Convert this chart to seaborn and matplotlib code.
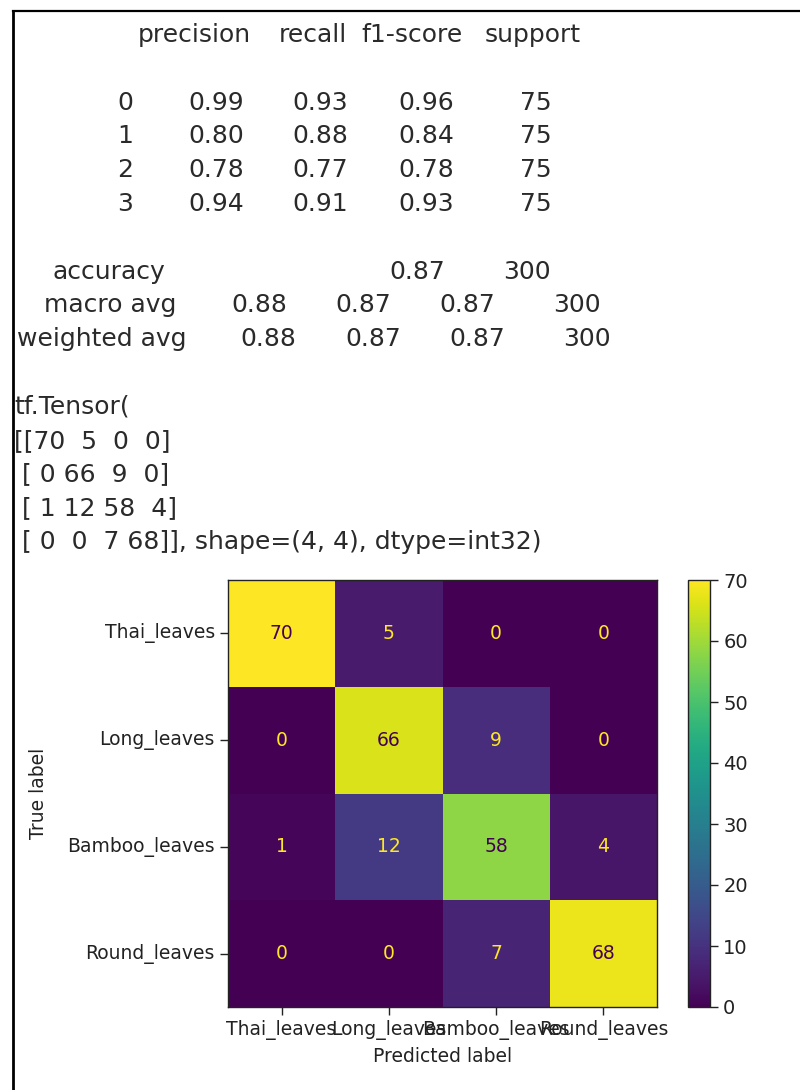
import numpy as np
import matplotlib
matplotlib.use("Agg")
import matplotlib.pyplot as plt
from matplotlib.lines import Line2D
import seaborn as sns

# ---- data -------------------------------------------------------------
class_names = ["Thai_leaves", "Long_leaves", "Bamboo_leaves", "Round_leaves"]
class_ids = ["0", "1", "2", "3"]
precision = [0.99, 0.80, 0.78, 0.94]
recall = [0.93, 0.88, 0.77, 0.91]
f1_score = [0.96, 0.84, 0.78, 0.93]
support = [75, 75, 75, 75]
accuracy = 0.87
total_support = 300
macro_avg = [0.88, 0.87, 0.87]
weighted_avg = [0.88, 0.87, 0.87]
confusion = np.array([
    [70, 5, 0, 0],
    [0, 66, 9, 0],
    [1, 12, 58, 4],
    [0, 0, 7, 68],
])
cbar_ticks = [0, 10, 20, 30, 40, 50, 60, 70]

# ---- figure -----------------------------------------------------------
W, H = 800, 1090
fig = plt.figure(figsize=(W / 100, H / 100), dpi=100)
fig.patch.set_facecolor("white")

TXT = "#2a2a2a"
REPORT_FONT = dict(family="DejaVu Sans", size=18, color=TXT)


def fx(px):
    return px / W


def fy(py):
    return 1 - py / H


def put(x, y, s, **kw):
    fig.text(fx(x), fy(y), s, ha="left", va="baseline", **REPORT_FONT, **kw)


# frame lines of the output cell
fig.add_artist(Line2D([fx(13), 1], [fy(11), fy(11)], color="black", lw=1.6,
                      transform=fig.transFigure))
fig.add_artist(Line2D([fx(13), fx(13)], [fy(11), 0], color="black", lw=2.0,
                      transform=fig.transFigure))

# ---- classification report -------------------------------------------
pitch = 33.8
base = 42
header_x = [138, 279, 361, 485]
for x, s in zip(header_x, ["precision", "recall", "f1-score", "support"]):
    put(x, base, s)

row_x = [117, 188, 292, 398, 520]
for i, cid in enumerate(class_ids):
    y = base + (i + 2) * pitch
    vals = [cid, f"{precision[i]:.2f}", f"{recall[i]:.2f}",
            f"{f1_score[i]:.2f}", f"{support[i]}"]
    for x, s in zip(row_x, vals):
        put(x, y, s)

y_acc = base + 7 * pitch
put(52, y_acc, "accuracy")
put(389, y_acc, f"{accuracy:.2f}")
put(503, y_acc, f"{total_support}")

y_mac = base + 8 * pitch
for x, s in zip([44, 231, 335, 439, 553],
                ["macro avg"] + [f"{v:.2f}" for v in macro_avg] + [f"{total_support}"]):
    put(x, y_mac, s)

y_wt = base + 9 * pitch
for x, s in zip([17, 240, 345, 449, 563],
                ["weighted avg"] + [f"{v:.2f}" for v in weighted_avg] + [f"{total_support}"]):
    put(x, y_wt, s)

# ---- tensor printout --------------------------------------------------
tensor_lines = (["tf.Tensor("] + np.array2string(confusion).split("\n"))
tensor_lines[-1] += f", shape={confusion.shape}, dtype=int32)"
for k, line in enumerate(tensor_lines):
    put(14, base + (11 + k) * pitch, line)

# ---- confusion matrix heatmap ----------------------------------------
ax = fig.add_axes([fx(228), fy(1007), (657 - 228) / W, (1007 - 580) / H])
cax = fig.add_axes([fx(688), fy(1007), (710 - 688) / W, (1007 - 580) / H])

sns.heatmap(confusion, annot=True, fmt="d", cmap="viridis", ax=ax,
            cbar_ax=cax, cbar_kws={"ticks": cbar_ticks},
            xticklabels=class_names, yticklabels=class_names,
            annot_kws={"fontsize": 13.5})

cmap = plt.get_cmap("viridis")
thresh = (confusion.max() + confusion.min()) / 2
for txt, val in zip(ax.texts, confusion.flat):
    txt.set_color(cmap(0.0) if val > thresh else cmap(1.0))

for sp in ax.spines.values():
    sp.set_visible(True)
    sp.set_color("#222222")
    sp.set_linewidth(1.0)

ax.tick_params(axis="both", labelsize=13.5, length=6, width=1.0,
               colors="#222222", labelcolor="#222222")
plt.setp(ax.get_xticklabels(), rotation=0)
plt.setp(ax.get_yticklabels(), rotation=0)
ax.set_xlabel("Predicted label", fontsize=13.5, color="#222222", labelpad=5)
ax.set_ylabel("True label", fontsize=13.5, color="#222222", labelpad=14)

cax.tick_params(labelsize=14, length=6, width=1.0, colors="#222222")
cbar = ax.collections[0].colorbar
cbar.outline.set_visible(True)
cbar.outline.set_edgecolor("#222222")
cbar.outline.set_linewidth(1.0)

fig.savefig("out.png", dpi=100, facecolor="white")
